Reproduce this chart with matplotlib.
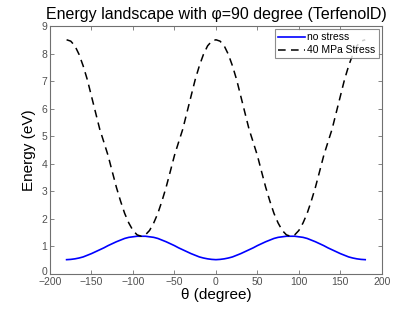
import numpy as np
import matplotlib.pyplot as plt
import matplotlib.transforms as mtransforms

# angle theta (degree), 5 degree steps
theta = list(range(-180, 181, 5))

# energy without stress (eV), one half, the other mirrored
half_no = [0.52, 0.53, 0.55, 0.58, 0.62, 0.68, 0.74, 0.81, 0.88, 0.95,
           1.03, 1.10, 1.17, 1.23, 1.29, 1.33, 1.35, 1.37, 1.37]
# energy with 40 MPa stress (eV)
half_st = [8.50, 8.45, 8.28, 7.97, 7.55, 7.05, 6.45, 5.85, 5.25, 4.78,
           4.30, 3.72, 3.15, 2.65, 2.20, 1.85, 1.58, 1.42, 1.37]

seg_no = half_no + half_no[-2::-1]
seg_st = half_st + half_st[-2::-1]
e_no_stress = seg_no + seg_no[1:]
e_stress = seg_st + seg_st[1:]

plt.rcParams['font.family'] = ['Liberation Sans', 'DejaVu Sans']

fig = plt.figure(figsize=(4.15, 3.12), dpi=100)
ax = fig.add_axes([0.1205, 0.1218, 0.7995, 0.7949])

ax.plot(theta, e_no_stress, color='blue', lw=1.2, label='no stress')
ax.plot(theta, e_stress, color='black', lw=1.1, ls=(0, (5, 3.5)), label='40 MPa Stress')

ax.set_xlim(-200, 200)
ax.set_ylim(0, 9)
ax.set_xticks(np.arange(-200, 201, 50))
ax.set_yticks(np.arange(0, 10, 1))

for s in ax.spines.values():
    s.set_color('#707070')
    s.set_linewidth(0.8)
ax.tick_params(direction='in', top=True, right=True, length=3, width=0.6,
               color='#707070', labelsize=7.5, labelcolor='#505050', pad=2)

# lift the "0" a bit so it does not sit on the -200 label
fig.canvas.draw()
lift = mtransforms.ScaledTranslation(0, 3 / 100, fig.dpi_scale_trans)
ylabs = ax.get_yticklabels()
ylabs[0].set_transform(ylabs[0].get_transform() + lift)

ax.set_xlabel('θ (degree)', fontsize=11, labelpad=1)
ax.set_ylabel('Energy (eV)', fontsize=11, labelpad=4)
ax.set_title('Energy landscape with φ=90 degree (TerfenolD)', fontsize=11.5, pad=5)

leg = ax.legend(loc='upper right', fontsize=7.5, frameon=True, fancybox=False,
                handlelength=2.6, borderaxespad=0.3, borderpad=0.3,
                labelspacing=0.3, handletextpad=0.2)
leg.get_frame().set_edgecolor('#707070')
leg.get_frame().set_linewidth(0.8)

fig.savefig('out.png', dpi=100)
